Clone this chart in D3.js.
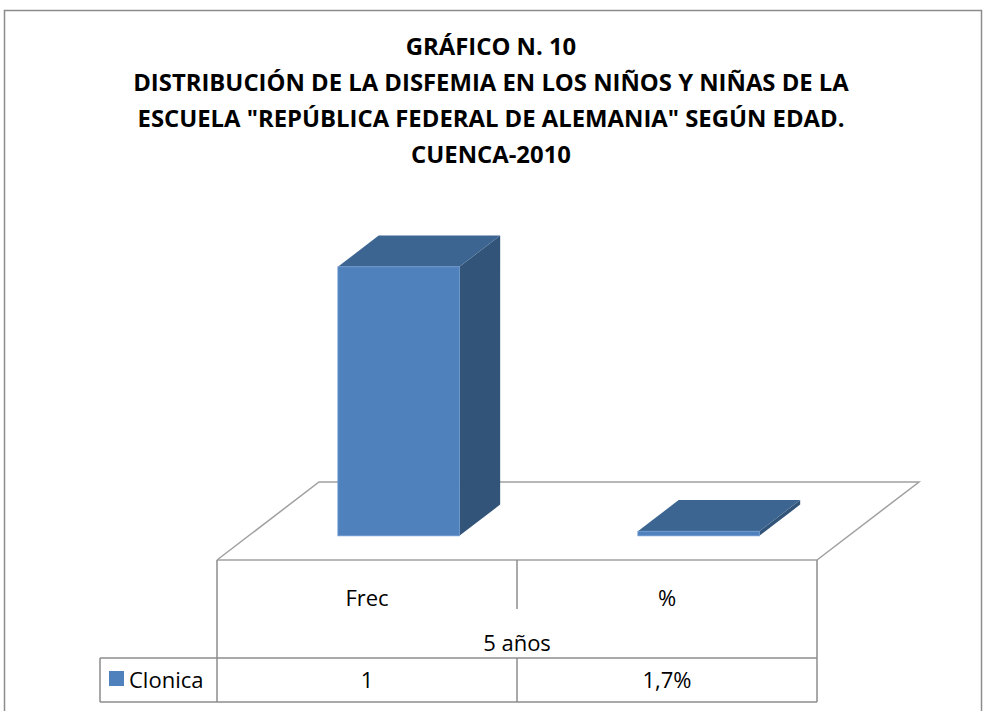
<!DOCTYPE html>
<html><head><meta charset="utf-8">
<script src="https://cdn.jsdelivr.net/npm/d3@7"></script>
<style>html,body{margin:0;padding:0;background:#fff}</style>
</head><body>
<svg id="c" width="984" height="711"></svg>
<script>
const titleLines = ["GRÁFICO N. 10","DISTRIBUCIÓN DE LA DISFEMIA EN LOS NIÑOS Y NIÑAS DE LA","ESCUELA \"REPÚBLICA FEDERAL DE ALEMANIA\" SEGÚN EDAD.","CUENCA-2010"];
const categories = ["Frec","%"];
const groupLabel = "5 años";
const seriesName = "Clonica";
const seriesValues = [1, 0.017];
const valueLabels = ["1","1,7%"];

const svg = d3.select("#c");
const font = "'Open Sans', sans-serif";
const grey = "#8c8c8c";

// frame
svg.append("rect").attr("x",4.5).attr("y",10.5).attr("width",977).attr("height",720)
  .attr("fill","#fff").attr("stroke",grey).attr("stroke-width",1.5);

// title
const tg = svg.append("g");
const tl = tg.selectAll("text").data(titleLines).join("text")
  .attr("x",491).attr("y",(d,i)=>55+i*36).attr("text-anchor","middle")
  .attr("font-family",font).attr("font-weight","bold").attr("font-size",20).attr("fill","#000")
  .text(d=>d);
const w = tl.nodes()[1].getComputedTextLength();
const fs = 20*716/w;
tl.attr("font-size",fs);

// geometry
const floorL = 217, floorR = 817, floorFrontY = 560;
const depthX = 102, depthY = -78;
const x = d3.scaleBand().domain(categories).range([floorL, floorR]);
const y = d3.scaleLinear().domain([0,1]).range([0,269]);
const dFront = 0.31, dBack = 0.71;
const barFrac = 0.405;

// floor
const floor = svg.append("g");
floor.append("path")
  .attr("d",`M${floorL},${floorFrontY} L${floorL+depthX},${floorFrontY+depthY} L${floorR+depthX},${floorFrontY+depthY} L${floorR},${floorFrontY}`)
  .attr("fill","none").attr("stroke","#a0a0a0").attr("stroke-width",1.5);

// bars
const cFront="#4F81BD", cTop="#3C6591", cSide="#325479";
const bars = svg.append("g");
categories.forEach((c,i)=>{
  const v = seriesValues[i];
  const bw = x.bandwidth()*barFrac;
  const x0 = x(c) + (x.bandwidth()-bw)/2 + dFront*depthX;
  const yb = floorFrontY + dFront*depthY;
  const h = Math.max(y(v),3);
  const yt = yb - h;
  const ddx = (dBack-dFront)*depthX, ddy = (dBack-dFront)*depthY;
  const g = bars.append("g");
  g.append("path").attr("d",`M${x0+bw},${yb} L${x0+bw+ddx},${yb+ddy} L${x0+bw+ddx},${yt+ddy} L${x0+bw},${yt} Z`).attr("fill",cSide);
  g.append("path").attr("d",`M${x0},${yt} L${x0+ddx},${yt+ddy} L${x0+bw+ddx},${yt+ddy} L${x0+bw},${yt} Z`).attr("fill",cTop);
  g.append("rect").attr("x",x0).attr("y",yt).attr("width",bw).attr("height",h).attr("fill",cFront)
    .attr("stroke","#6f9ad0").attr("stroke-width",0.8);
});

// data table
const t = svg.append("g").attr("stroke",grey).attr("stroke-width",1.5);
const rowTop = 560, rowMid = 658, rowBot = 702, legL = 100;
const mid = x(categories[1]);
const ln = (x1,y1,x2,y2)=>t.append("line").attr("x1",x1).attr("y1",y1).attr("x2",x2).attr("y2",y2);
ln(floorL,rowTop,floorR,rowTop).attr("stroke","#a0a0a0");
ln(floorL,rowTop,floorL,rowBot);
ln(floorR,rowTop,floorR,rowBot);
ln(mid,rowTop,mid,609);
ln(mid,rowMid,mid,rowBot);
ln(legL,rowMid,floorR,rowMid);
ln(legL,rowBot,floorR,rowBot);
ln(legL,rowMid,legL,rowBot);

const tt = svg.append("g").attr("font-family",font).attr("font-size",22).attr("fill","#000").attr("text-anchor","middle");
categories.forEach((c,i)=>{
  tt.append("text").attr("x",x(c)+x.bandwidth()/2).attr("y",606).text(c);
  tt.append("text").attr("x",x(c)+x.bandwidth()/2).attr("y",688).text(valueLabels[i]);
});
tt.append("text").attr("x",(floorL+floorR)/2).attr("y",651).text(groupLabel);

svg.append("rect").attr("x",109).attr("y",671).attr("width",15).attr("height",15).attr("fill",cFront);
svg.append("text").attr("x",129).attr("y",688).attr("font-family",font).attr("font-size",22).attr("fill","#000").text(seriesName);
</script>
</body></html>
